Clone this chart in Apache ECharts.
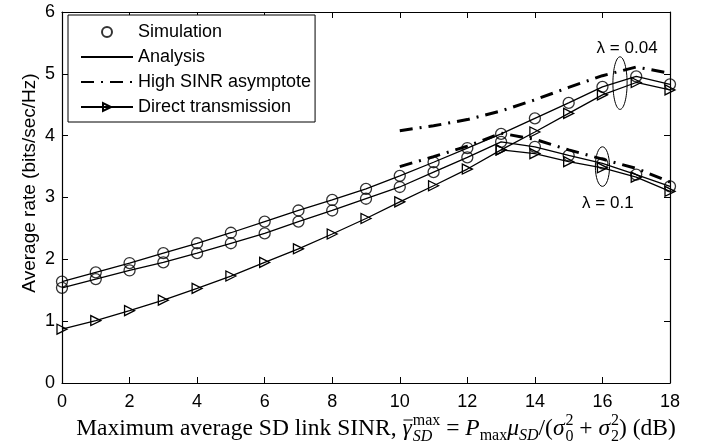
<!DOCTYPE html>
<html>
<head>
<meta charset="utf-8">
<script src="https://cdn.jsdelivr.net/npm/echarts@6/dist/echarts.min.js"></script>
<style>
html,body{margin:0;padding:0;background:#fff;}
#main{width:704px;height:444px;}
</style>
</head>
<body>
<div id="main"></div>
<script>
// ---------- data ----------
const xValues = [0,1,2,3,4,5,6,7,8,9,10,11,12,13,14,15,16,17,18];
// lambda = 0.04 (simulation ~ analysis)
const rateLam004 = [1.64,1.79,1.94,2.10,2.26,2.43,2.61,2.79,2.96,3.14,3.35,3.57,3.80,4.03,4.28,4.53,4.79,4.96,4.83];
// lambda = 0.1
const rateLam01 = [1.54,1.68,1.82,1.95,2.10,2.26,2.42,2.61,2.79,2.98,3.17,3.41,3.65,3.90,3.82,3.68,3.55,3.37,3.18];
// direct transmission (common part x = 0..13)
const directShared = [0.87,1.01,1.17,1.34,1.53,1.73,1.95,2.17,2.41,2.66,2.93,3.19,3.46,3.77];
const directTailX = [14,15,16,17,18];
const directTailLam004 = [4.06,4.36,4.66,4.86,4.74];
const directTailLam01 = [3.71,3.58,3.48,3.33,3.10];
// high SINR asymptotes
const asymX = [10,11,12,13,14,15,16,17,18];
const asymLam004 = [4.08,4.16,4.26,4.40,4.58,4.78,4.97,5.11,5.01];
const asymLam01 = [3.50,3.66,3.83,4.04,3.94,3.77,3.62,3.47,3.25];
// annotations: ellipse [x, y, halfWidth, halfHeight] in data units
const ellipses = [[16.52,4.85,0.21,0.425],[16.0,3.50,0.21,0.32]];
const lambdaLabels = [[16.73,5.42,'λ = 0.04'],[16.16,2.91,'λ = 0.1']];
const xTicks = {min:0,max:18,interval:2};
const yTicks = {min:0,max:6,interval:1};
const legendNames = ['Simulation','Analysis','High SINR asymptote','Direct transmission'];
const yLabel = 'Average rate (bits/sec/Hz)';

// ---------- helpers ----------
const pairs = (xs, ys) => ys.map((v,i)=>[xs[i], v]);
const lineLam004 = pairs(xValues, rateLam004);
const lineLam01 = pairs(xValues, rateLam01);
const directLam004 = pairs(xValues, directShared).concat(pairs(directTailX, directTailLam004));
const directLam01 = [[13, directShared[13]]].concat(pairs(directTailX, directTailLam01));

const SANS = 'Liberation Sans';
const BLACK = '#000';
const CLEAR = 'rgba(0,0,0,0)';
const lw = 1.3;

const analysisStyle = {type:'line', name:'Analysis', symbol:'circle', showSymbol:false, symbolSize:1,
  lineStyle:{color:BLACK,width:lw}, itemStyle:{color:CLEAR, borderColor:CLEAR, borderWidth:0}, z:2};
const simStyle = {type:'scatter', name:'Simulation', symbol:'circle', symbolSize:11,
  itemStyle:{color:CLEAR, borderColor:BLACK, borderWidth:lw}, z:4};
const directStyle = {type:'line', name:'Direct transmission', symbol:'triangle', symbolRotate:-90, symbolSize:10,
  showAllSymbol:true, lineStyle:{color:BLACK,width:lw},
  itemStyle:{color:CLEAR, borderColor:BLACK, borderWidth:lw}, z:3};
const asymStyle = {type:'line', name:'High SINR asymptote', symbol:'circle', showSymbol:false, symbolSize:1,
  lineStyle:{color:BLACK,width:3,type:[13,7,2,7]}, itemStyle:{color:CLEAR, borderColor:CLEAR, borderWidth:0}, z:1};

const axisCommon = {
  type:'value', splitLine:{show:false},
  axisLine:{show:true, onZero:false, lineStyle:{color:BLACK,width:1.2}},
  axisTick:{show:true, inside:true, length:6, lineStyle:{color:BLACK,width:1}},
};

const chart = echarts.init(document.getElementById('main'));
const option = {
  animation:false,
  backgroundColor:'#fff',
  grid:{left:62, right:34, top:12, bottom:61, containLabel:false},
  legend:{
    data:legendNames, orient:'vertical', left:68, top:15,
    backgroundColor:'#fff', borderColor:BLACK, borderWidth:1, borderRadius:0,
    padding:[7,4,5,12], itemWidth:52, itemHeight:10, itemGap:5,
    selectedMode:false,
    textStyle:{fontSize:18, fontFamily:SANS, color:BLACK, lineHeight:20}
  },
  xAxis:[
    Object.assign({}, axisCommon, xTicks, {position:'bottom',
      axisLabel:{color:BLACK, fontSize:18, fontFamily:SANS, margin:10}}),
    Object.assign({}, axisCommon, xTicks, {position:'top', axisLabel:{show:false}})
  ],
  yAxis:[
    Object.assign({}, axisCommon, yTicks, {position:'left',
      axisLabel:{color:BLACK, fontSize:18, fontFamily:SANS, margin:7}}),
    Object.assign({}, axisCommon, yTicks, {position:'right', axisLabel:{show:false}})
  ],
  series:[
    Object.assign({}, asymStyle, {data:pairs(asymX, asymLam004)}),
    Object.assign({}, asymStyle, {data:pairs(asymX, asymLam01)}),
    Object.assign({}, analysisStyle, {data:lineLam004}),
    Object.assign({}, analysisStyle, {data:lineLam01}),
    Object.assign({}, directStyle, {data:directLam004}),
    Object.assign({}, directStyle, {data:directLam01}),
    Object.assign({}, simStyle, {data:lineLam004}),
    Object.assign({}, simStyle, {data:lineLam01}),
    {
      type:'custom', name:'ellipse', data:ellipses, encode:{x:0,y:1}, z:5,
      renderItem:function(params, api){
        const c = api.coord([api.value(0), api.value(1)]);
        const s = api.size([api.value(2), api.value(3)]);
        return {type:'ellipse', shape:{cx:c[0], cy:c[1], rx:s[0], ry:s[1]},
          style:{fill:'none', stroke:BLACK, lineWidth:1}};
      }
    },
    {
      type:'custom', name:'lambda', data:lambdaLabels, encode:{x:0,y:1}, z:5,
      renderItem:function(params, api){
        const c = api.coord([api.value(0), api.value(1)]);
        return {type:'text', x:c[0], y:c[1],
          style:{text:lambdaLabels[params.dataIndex][2], fill:BLACK, fontSize:17, fontFamily:SANS,
            align:'center', verticalAlign:'middle'}};
      }
    }
  ]
};
chart.setOption(option);

// ---------- x-axis label with math (laid out as real text) ----------
const SERIF = 'Liberation Serif';
const base = 23.5, small = 16;
const frags = [
  {t:'Maximum average SD link SINR, ', s:base},
  {t:'γ', s:base, it:true, bar:true},
  {stack:[{t:'max', s:small, dy:-10},{t:'SD', s:small, it:true, dy:6}]},
  {t:' = ', s:base},
  {t:'P', s:base, it:true},
  {t:'max', s:small, dy:5},
  {t:'μ', s:base, it:true},
  {t:'SD', s:small, it:true, dy:5},
  {t:'/(', s:base},
  {t:'σ', s:base, it:true},
  {stack:[{t:'2', s:small, dy:-10},{t:'0', s:small, dy:6}]},
  {t:' + ', s:base},
  {t:'σ', s:base, it:true},
  {stack:[{t:'2', s:small, dy:-10},{t:'2', s:small, dy:6}]},
  {t:') (dB)', s:base}
];
const mctx = document.createElement('canvas').getContext('2d');
function fontOf(f){ return (f.it?'italic ':'') + f.s + 'px "' + SERIF + '"'; }
function widthOf(f){ mctx.font = fontOf(f); return mctx.measureText(f.t).width; }
let total = 0;
frags.forEach(f=>{
  if (f.stack){ f.w = Math.max.apply(null, f.stack.map(widthOf)) + 1; }
  else { f.w = widthOf(f); }
  total += f.w;
});
const centerX = 376, baseline = 437;
let cx = centerX - total/2;
const graphics = [];
function addText(f, x){
  graphics.push({type:'text', x:x, y:baseline + (f.dy||0) - 0.36*f.s,
    style:{text:f.t, fill:BLACK, fontSize:f.s, fontFamily:SERIF, fontStyle:f.it?'italic':'normal',
      align:'left', verticalAlign:'middle'}});
}
frags.forEach(f=>{
  if (f.stack){ f.stack.forEach(g=>addText(g, cx+1)); }
  else {
    addText(f, cx);
    if (f.bar){
      graphics.push({type:'line', shape:{x1:cx+1, y1:baseline-17, x2:cx+f.w+1, y2:baseline-17},
        style:{stroke:BLACK, lineWidth:1}});
    }
  }
  cx += f.w;
});
// y-axis label
graphics.push({type:'text', x:30, y:183, rotation:Math.PI/2,
  style:{text:yLabel, fill:BLACK, fontSize:19, fontFamily:SANS, align:'center', verticalAlign:'middle'}});
chart.setOption({graphic:graphics});
</script>
</body>
</html>
